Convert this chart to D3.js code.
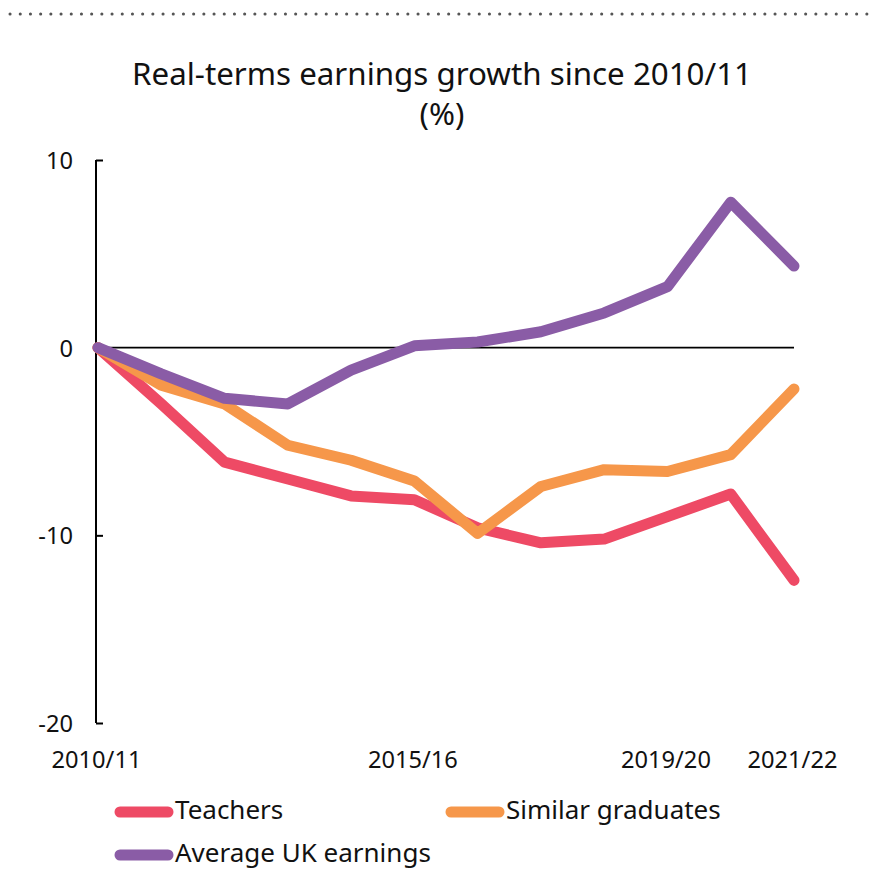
<!DOCTYPE html>
<html><head><meta charset="utf-8">
<script src="https://cdn.jsdelivr.net/npm/d3@7"></script>
<style>body{margin:0;background:#fff}svg{display:block;font-family:"Noto Sans",sans-serif}</style>
</head><body><svg id="c" width="878" height="871"></svg>
<script>
const years = ["2010/11","2011/12","2012/13","2013/14","2014/15","2015/16","2016/17","2017/18","2018/19","2019/20","2020/21","2021/22"];
const teachers = [0,-3.0,-6.1,-7.0,-7.9,-8.1,-9.6,-10.4,-10.2,-9.0,-7.8,-12.4];
const graduates = [0,-2.0,-3.0,-5.2,-6.0,-7.1,-9.9,-7.4,-6.5,-6.6,-5.7,-2.2];
const average = [0,-1.4,-2.7,-3.0,-1.2,0.1,0.3,0.85,1.85,3.25,7.75,4.35];
const xTickLabels = ["2010/11","2015/16","2019/20","2021/22"];
const yTicks = [10,0,-10,-20];
const seriesNames = ["Teachers","Similar graduates","Average UK earnings"];
const colors = ["#EE4A65","#F6974A","#8A5CA6"];

const svg = d3.select("#c");
const x = d3.scalePoint().domain(years).range([98,794]);
const y = d3.scaleLinear().domain([-20,10]).range([723,160]);

// fit a font size so that a reference text reaches a target width
function fitSize(sample, target){
  const tmp = svg.append("text").attr("font-size",100).text(sample);
  const w = tmp.node().getComputedTextLength();
  tmp.remove();
  return 100*target/w;
}
const titleSize = fitSize("Real-terms earnings growth since 2010/11", 620);
const tickSize = fitSize("2010/11", 90);
const legendSize = fitSize("Average UK earnings", 256);

// dotted top rule
svg.append("line").attr("x1",10).attr("x2",874).attr("y1",14).attr("y2",14)
  .attr("stroke","#555").attr("stroke-width",3).attr("stroke-linecap","round")
  .attr("stroke-dasharray","0.1 10.1");

// title
svg.append("text").attr("text-anchor","middle").attr("font-size",titleSize).attr("fill","#111")
  .attr("x",442).attr("y",85).text("Real-terms earnings growth since 2010/11");
svg.append("text").attr("text-anchor","middle").attr("font-size",titleSize).attr("fill","#111")
  .attr("x",442).attr("y",125).text("(%)");

// y axis
const yAxis = d3.axisLeft(y).tickValues(yTicks).tickSize(-7).tickPadding(23).tickFormat(d=>String(d));
const ga = svg.append("g").attr("transform","translate(96,0)").call(yAxis);
ga.attr("font-family",null).attr("font-size",null);
ga.select(".domain").attr("stroke","#000").attr("stroke-width",2).attr("d","M0,"+y(10)+"V"+y(-20));
ga.selectAll(".tick line").attr("stroke","#000").attr("stroke-width",2);
ga.selectAll(".tick text").attr("font-size",tickSize).attr("fill","#111").attr("dy","0.36em");
ga.selectAll(".tick").filter(d=>d===0).select("line").remove();

// zero line
svg.append("line").attr("x1",96).attr("x2",794).attr("y1",y(0)).attr("y2",y(0))
  .attr("stroke","#000").attr("stroke-width",1.6);

// x axis labels
const xAxis = d3.axisBottom(x).tickValues(xTickLabels).tickSize(0).tickPadding(0);
const gx = svg.append("g").attr("transform","translate(-2,768)").call(xAxis);
gx.attr("font-family",null).attr("font-size",null);
gx.select(".domain").remove();
gx.selectAll(".tick text").attr("font-size",tickSize).attr("fill","#111").attr("dy",0).attr("y",0);

// lines
const line = d3.line().x((d,i)=>x(years[i])).y(d=>y(d));
[teachers,graduates,average].forEach((s,k)=>{
  svg.append("path").datum(s).attr("d",line).attr("fill","none")
    .attr("stroke",colors[k]).attr("stroke-width",11)
    .attr("stroke-linecap","round").attr("stroke-linejoin","round");
});

// legend
const legendPos = [[120,812],[451,812],[120,855]];
seriesNames.forEach((n,k)=>{
  const [lx,ly] = legendPos[k];
  svg.append("line").attr("x1",lx).attr("x2",lx+48).attr("y1",ly).attr("y2",ly)
    .attr("stroke",colors[k]).attr("stroke-width",11).attr("stroke-linecap","round");
  svg.append("text").attr("x",lx+55).attr("y",ly+7)
    .attr("font-size",legendSize).attr("fill","#111").text(n);
});
</script></body></html>
